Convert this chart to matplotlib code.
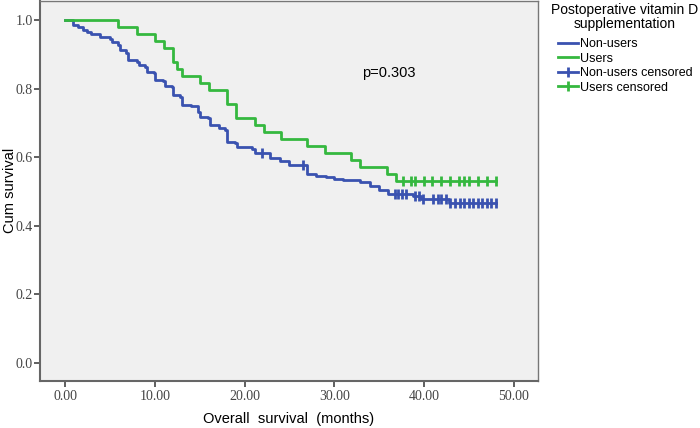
import matplotlib.pyplot as plt
from matplotlib.lines import Line2D

# Kaplan-Meier step data (time in months, survival after each drop)
nonusers_t = [0, 0.9, 1.45, 2.0, 2.4, 2.9, 3.9, 5.0, 5.2, 5.9, 6.1, 6.8, 7.0, 8.0, 8.2,
              8.9, 9.1, 9.9, 10.0, 10.9, 11.1, 11.9, 12.0, 12.8, 13.0, 14.0, 14.8, 15.0,
              15.9, 16.1, 17.1, 17.8, 18.0, 18.9, 19.1, 20.8, 21.1, 22.8, 23.9, 24.9,
              26.9, 28.0, 29.1, 30.0, 31.0, 32.9, 34.0, 35.0, 36.0, 38.8, 39.7, 42.8, 48.0]
nonusers_s = [1.0, 0.986, 0.980, 0.970, 0.964, 0.959, 0.952, 0.944, 0.935, 0.928, 0.913,
              0.905, 0.884, 0.878, 0.869, 0.864, 0.850, 0.845, 0.826, 0.821, 0.808, 0.804,
              0.782, 0.777, 0.753, 0.748, 0.733, 0.718, 0.714, 0.694, 0.685, 0.680, 0.645,
              0.641, 0.629, 0.623, 0.613, 0.597, 0.588, 0.578, 0.551, 0.545, 0.541, 0.536,
              0.532, 0.526, 0.516, 0.504, 0.493, 0.485, 0.477, 0.465, 0.465]
nonusers_cens_t = [21.9, 26.5, 36.8, 37.1, 37.5, 38.0, 39.0, 39.4, 39.9, 41.0, 41.5, 41.9,
                   42.4, 42.9, 43.5, 44.0, 44.5, 45.0, 45.5, 46.0, 46.5, 47.0, 47.5, 48.0]

users_t = [0, 5.9, 8.0, 10.0, 11.0, 12.0, 12.4, 13.0, 15.0, 16.0, 18.0, 19.0, 21.1, 22.1,
           24.1, 26.9, 29.0, 31.9, 32.9, 35.9, 36.9, 48.0]
users_s = [1.0, 0.980, 0.960, 0.939, 0.918, 0.878, 0.857, 0.837, 0.816, 0.796, 0.755,
           0.714, 0.694, 0.673, 0.653, 0.633, 0.612, 0.592, 0.571, 0.551, 0.531, 0.531]
users_cens_t = [37.7, 38.5, 39.0, 40.0, 40.9, 41.9, 42.9, 43.9, 44.5, 45.0, 46.0, 47.0, 48.0]

x_ticks = [0, 10, 20, 30, 40, 50]
y_ticks = [0.0, 0.2, 0.4, 0.6, 0.8, 1.0]

blue = '#3a52b0'
green = '#35b83f'


def surv_at(times, surv, t):
    val = surv[0]
    for ti, si in zip(times, surv):
        if ti <= t:
            val = si
    return val


fig = plt.figure(figsize=(7, 4.28), dpi=100)
ax = fig.add_axes([0.0571, 0.1105, 0.7115, 0.8872])
ax.set_facecolor('#f0f0f0')

ax.step(nonusers_t, nonusers_s, where='post', color=blue, lw=2.0)
ax.step(users_t, users_s, where='post', color=green, lw=2.0)
ax.plot(nonusers_cens_t, [surv_at(nonusers_t, nonusers_s, t) for t in nonusers_cens_t],
        ls='none', marker='|', ms=7, mew=2.0, color=blue)
ax.plot(users_cens_t, [surv_at(users_t, users_s, t) for t in users_cens_t],
        ls='none', marker='|', ms=7, mew=2.0, color=green)

ax.set_xlim(-2.82, 52.7)
ax.set_ylim(-0.053, 1.056)
ax.set_xticks(x_ticks)
ax.set_xticklabels(['{:.2f}'.format(v) for v in x_ticks])
ax.set_yticks(y_ticks)
ax.set_yticklabels(['{:.1f}'.format(v) for v in y_ticks])
for lab in ax.get_xticklabels() + ax.get_yticklabels():
    lab.set_family('Liberation Serif')
    lab.set_fontsize(10)
    lab.set_color('#444444')
ax.tick_params(direction='out', length=4.5, width=1.2, color='#444444')
ax.tick_params(axis='y', pad=0.5)
ax.tick_params(axis='x', pad=2)

for side in ['left', 'bottom']:
    ax.spines[side].set_color('#666666')
    ax.spines[side].set_linewidth(1.5)
for side in ['top', 'right']:
    ax.spines[side].set_color('#777777')
    ax.spines[side].set_linewidth(1.0)

ax.set_xlabel('Overall  survival  (months)', family='Liberation Sans', fontsize=10.5, labelpad=7)
ax.set_ylabel('Cum survival', family='Liberation Sans', fontsize=10.5)
ax.yaxis.set_label_coords(-0.046, 0.5)

ax.text(33.1, 0.846, 'p=0.303', family='Liberation Sans', fontsize=10.5, va='center')

fig.text(0.892, 0.992, 'Postoperative vitamin D\nsupplementation', ha='center', va='top',
         family='Liberation Sans', fontsize=10, linespacing=1.0)

handles = [
    Line2D([], [], color=blue, lw=2.0),
    Line2D([], [], color=green, lw=2.0),
    Line2D([], [], color=blue, lw=2.0, marker='|', ms=7, mew=2.0),
    Line2D([], [], color=green, lw=2.0, marker='|', ms=7, mew=2.0),
]
labels = ['Non-users', 'Users', 'Non-users censored', 'Users censored']
fig.legend(handles, labels, loc='upper left', bbox_to_anchor=(0.797, 0.911), frameon=False,
           prop={'family': 'Liberation Sans', 'size': 9}, handlelength=1.6, handletextpad=0.2,
           labelspacing=0.2, borderaxespad=0, borderpad=0, numpoints=1)

fig.savefig('out.png', dpi=100)
